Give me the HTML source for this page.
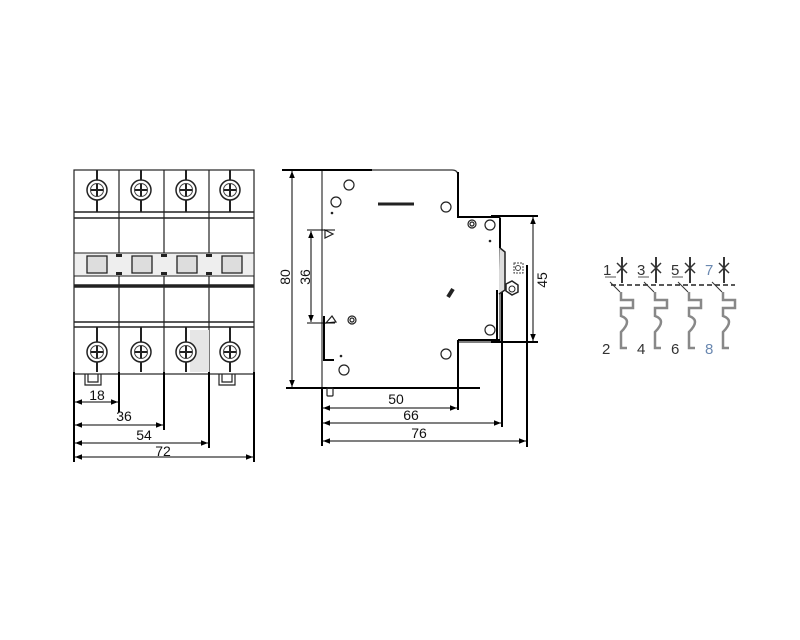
<!DOCTYPE html>
<html><head><meta charset="utf-8"><style>html,body{margin:0;padding:0;background:#fff}svg{display:block}</style></head>
<body>
<svg width="800" height="640" viewBox="0 0 800 640" xmlns="http://www.w3.org/2000/svg" font-family="Liberation Sans, sans-serif">
<defs>
<marker id="a" viewBox="0 0 10 10" refX="10" refY="5" markerWidth="7" markerHeight="7" orient="auto-start-reverse"><path d="M0,1 L10,5 L0,9 z" fill="#000"/></marker>
<g id="scr"><circle r="10" fill="#fff" stroke="#222" stroke-width="1.5"/><circle r="6.5" fill="none" stroke="#444" stroke-width="1"/><path d="M-6,0H6M0,-6V6" stroke="#222" stroke-width="2"/></g>
</defs>
<!-- LEFT VIEW -->
<g stroke="#222" fill="none">
<rect x="74" y="170" width="180" height="204" stroke-width="1.2"/>
<path d="M119,170V374M164,170V374M209,170V374" stroke-width="1.2"/>
<path d="M74,212H254M74,218H254" stroke-width="1.5"/>
<path d="M74,322H254M74,327H254" stroke-width="1.5"/>
<path d="M74,286H254" stroke-width="3.5"/>
<rect x="74" y="253" width="180" height="23" fill="#eee" stroke-width="1"/>
</g>
<g fill="#ddd" stroke="#222" stroke-width="1.3">
<path d="M87,256h20v17h-20z"/><path d="M132,256h20v17h-20z"/><path d="M177,256h20v17h-20z"/><path d="M222,256h20v17h-20z"/>
</g>
<g fill="#222"><rect x="116" y="254" width="6" height="3"/><rect x="116" y="272" width="6" height="3"/><rect x="161" y="254" width="6" height="3"/><rect x="161" y="272" width="6" height="3"/><rect x="206" y="254" width="6" height="3"/><rect x="206" y="272" width="6" height="3"/></g>
<rect x="190" y="330" width="19" height="42" fill="#e6e6e6"/>
<g stroke="#222" stroke-width="2"><path d="M97,170V212M141,170V212M186,170V212M230,170V212M97,327V372M141,327V372M186,327V372M230,327V372"/></g>
<use href="#scr" x="97" y="190"/><use href="#scr" x="141" y="190"/><use href="#scr" x="186" y="190"/><use href="#scr" x="230" y="190"/>
<use href="#scr" x="97" y="352"/><use href="#scr" x="141" y="352"/><use href="#scr" x="186" y="352"/><use href="#scr" x="230" y="352"/>
<path d="M85,374v11h16v-11M88,374v8h10v-8" fill="none" stroke="#222" stroke-width="1.2"/>
<path d="M219,374v11h16v-11M222,374v8h10v-8" fill="none" stroke="#222" stroke-width="1.2"/>
<g stroke="#000" stroke-width="2"><path d="M74,372V462M119,372V412M164,372V430M209,372V448M254,372V462"/></g>
<g stroke="#000" stroke-width="1" marker-start="url(#a)" marker-end="url(#a)"><path d="M75,402H118"/><path d="M75,425H163"/><path d="M75,443H208"/><path d="M75,457H253"/></g>
<g font-size="14" text-anchor="middle" fill="#111"><text x="97" y="400">18</text><text x="124" y="421">36</text><text x="144" y="440">54</text><text x="163" y="456">72</text></g>
<!-- SIDE VIEW -->
<path d="M322,170H452q6,0 6,6V217H500V342H458V388H322Z" fill="#fff" stroke="#333" stroke-width="1.2"/>
<g stroke="#000" stroke-width="2" fill="none">
<path d="M282,170H372"/><path d="M286,388H480"/>
<path d="M458,172V217H500"/><path d="M458,340V410"/><path d="M458,340H500"/>
<path d="M491,216H538"/><path d="M491,342H538"/>
<path d="M502,292V427"/><path d="M527,265V447"/>
<path d="M322,388V446"/>
<path d="M500,218V248"/><path d="M497,290V342"/>
<path d="M324,316V360H334"/>
</g>
<path d="M500,248l5,4V290l-6,4" fill="#ddd" stroke="#222" stroke-width="1.5"/>
<rect x="514" y="263" width="9" height="10" fill="none" stroke="#444" stroke-dasharray="2,1"/>
<circle cx="518" cy="268" r="2.5" fill="none" stroke="#444"/>
<path d="M506,284l6,-3l6,4v7l-6,3l-6,-4z" fill="#fff" stroke="#222" stroke-width="1.5"/><circle cx="512" cy="289" r="3" fill="none" stroke="#222"/>
<g fill="none" stroke="#222" stroke-width="1.2">
<circle cx="349" cy="185" r="5"/><circle cx="336" cy="202" r="5"/><circle cx="446" cy="207" r="5"/><circle cx="490" cy="225" r="5"/><circle cx="490" cy="330" r="5"/><circle cx="446" cy="354" r="5"/><circle cx="344" cy="370" r="5"/>
<circle cx="472" cy="224" r="4"/><circle cx="472" cy="224" r="2"/><circle cx="352" cy="320" r="4"/><circle cx="352" cy="320" r="2"/>
<path d="M378,204H414" stroke-width="3"/><path d="M448,297l5,-8" stroke-width="4"/>
<path d="M325,230l8,4l-8,4z"/><path d="M326,323l6,-7l4,6z"/>
<rect x="327" y="388" width="6" height="8" rx="1"/>
</g>
<g fill="#222"><circle cx="332" cy="213" r="1.3"/><circle cx="490" cy="241" r="1.3"/><circle cx="341" cy="356" r="1.3"/></g>
<path d="M307,230H335M307,323H335" stroke="#000" stroke-width="1"/>
<g stroke="#000" stroke-width="1" marker-start="url(#a)" marker-end="url(#a)">
<path d="M292,171V387"/><path d="M311,231V322"/><path d="M533,217V341"/>
<path d="M323,408H457"/><path d="M323,423H501"/><path d="M323,441H526"/></g>
<g font-size="14" fill="#111" text-anchor="middle">
<text x="396" y="404">50</text><text x="411" y="420">66</text><text x="419" y="438">76</text>
<text transform="translate(290,277) rotate(-90)">80</text>
<text transform="translate(310,277) rotate(-90)">36</text>
<text transform="translate(547,280) rotate(-90)">45</text></g>
<!-- SCHEMATIC -->
<g font-size="15" fill="#333"><text x="603" y="275">1</text><text x="637" y="275">3</text><text x="671" y="275">5</text><text x="705" y="275" fill="#6a88b0">7</text>
<text x="602" y="354">2</text><text x="637" y="354">4</text><text x="671" y="354">6</text><text x="705" y="354" fill="#6a88b0">8</text></g>
<path d="M605,277H616M638,277H649M672,277H683" stroke="#555" stroke-width="1"/>
<g stroke="#333" stroke-width="1.5" fill="none">
<path d="M622,257V283M656,257V283M690,257V283M724,257V283" stroke="#222" stroke-width="1.8"/>
<path d="M617,263l10,10M627,263l-10,10M651,263l10,10M661,263l-10,10M685,263l10,10M695,263l-10,10M719,263l10,10M729,263l-10,10"/>
<path d="M611,285H735" stroke-dasharray="5,3" stroke="#222"/>
<path d="M610,282l10,10M644,282l10,10M678,282l10,10M712,282l10,10" stroke-width="1"/>
</g>
<g stroke="#888" stroke-width="2.5" fill="none">
<path d="M621,292V300h12v8h-12v8q12,4 0,16v16h6"/>
<path d="M655,292V300h12v8h-12v8q12,4 0,16v16h6"/>
<path d="M689,292V300h12v8h-12v8q12,4 0,16v16h6"/>
<path d="M723,292V300h12v8h-12v8q12,4 0,16v16h6"/>
</g>
</svg>
</body></html>
